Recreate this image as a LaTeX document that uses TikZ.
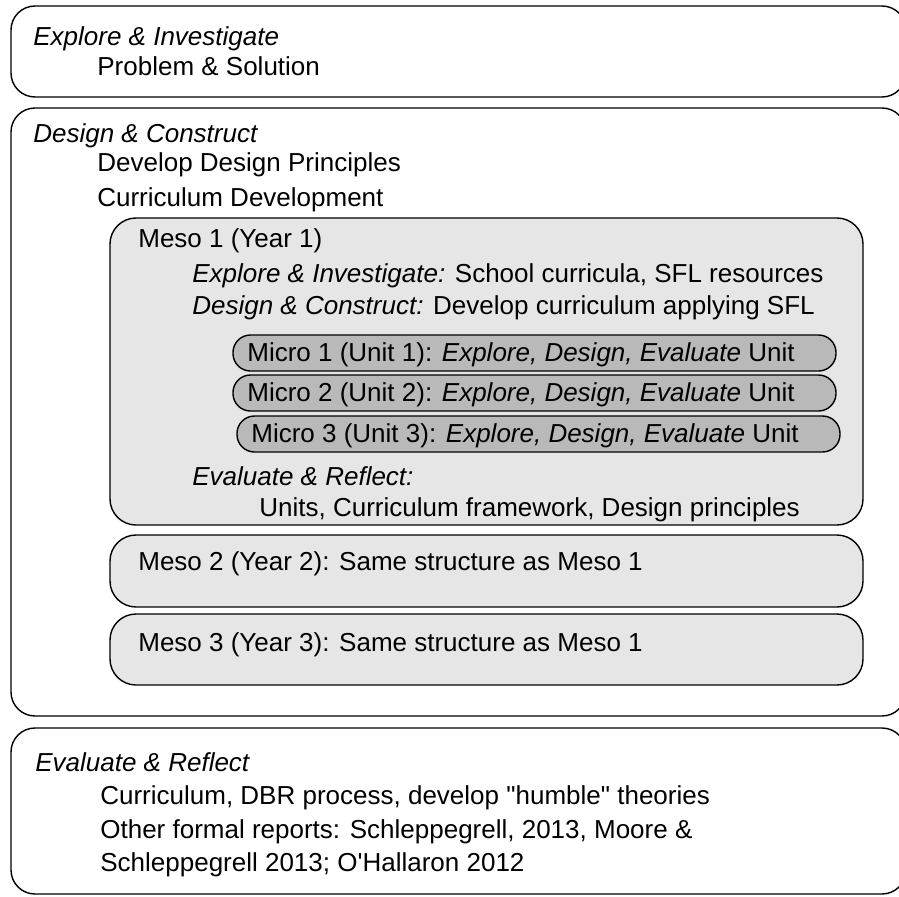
\documentclass[tikz,border=0pt]{standalone}
\usepackage{fontspec}
\setmainfont{Liberation Sans}[Ligatures=TeXOff]
\definecolor{mesogray}{HTML}{E6E6E6}
\definecolor{microgray}{HTML}{B9B9B9}

\begin{document}
\begin{tikzpicture}[x=0.02cm,y=-0.02cm,
    stagebox/.style={draw,line width=0.8pt,rounded corners=0.48cm},
    mesobox/.style={draw,fill=mesogray,line width=0.8pt,rounded corners=0.52cm},
    microbox/.style={draw,fill=microgray,line width=0.8pt,rounded corners=0.35cm},
    txt/.style={anchor=base west,inner sep=0pt,font=\fontsize{14.8}{17}\selectfont}]
\clip (0,0) rectangle (899,896);

% Explore & Investigate
\draw[stagebox] (11,6) rectangle (906,97);
\node[txt] (explore) at (33,45) {\itshape Explore \& Investigate};
\node[txt] (problem) at (97,75) {Problem \& Solution};

% Design & Construct
\draw[stagebox] (11,108) rectangle (906,716);
\node[txt] (design) at (33,142) {\itshape Design \& Construct};
\node[txt] (principles) at (97,171) {Develop Design Principles};
\node[txt] (curdev) at (97,206) {Curriculum Development};

% Meso 1
\draw[mesobox] (110,218) rectangle (863,525);
\node[txt] (meso1) at (138,247) {Meso 1 (Year 1)};
\node[txt] (mexplore) at (192,282) {\textit{Explore \& Investigate:} School curricula, SFL resources};
\node[txt] (mdesign) at (192,314) {\textit{Design \& Construct:} Develop curriculum applying SFL};
% Micro cycles
\foreach \n/\xa/\xb/\ya in {1/233/836/335, 2/233/836/375, 3/237/840/416} {
    \draw[microbox] (\xa,\ya) rectangle (\xb,\ya+36);
    \node[txt] (micro\n) at (\xa+14,\ya+26) {Micro \n\ (Unit \n): \textit{Explore, Design, Evaluate} Unit};
}
\node[txt] (mevaluate) at (192,485) {\itshape Evaluate \& Reflect:};
\node[txt] (units) at (259,516) {Units, Curriculum framework, Design principles};

% Meso 2 and 3
\draw[mesobox] (110,535) rectangle (863,607);
\node[txt] (meso2) at (138,570) {Meso 2 (Year 2): Same structure as Meso 1};
\draw[mesobox] (110,614) rectangle (863,685);
\node[txt] (meso3) at (138,651) {Meso 3 (Year 3): Same structure as Meso 1};

% Evaluate & Reflect
\draw[stagebox] (11,728) rectangle (906,894);
\node[txt] (evaluate) at (35,771) {\itshape Evaluate \& Reflect};
\node[txt] (theories) at (100,804) {Curriculum, DBR process, develop "humble" theories};
\node[txt] (reports) at (100,838) {Other formal reports: Schleppegrell, 2013, Moore \&};
\node[txt] (reports2) at (100,871) {Schleppegrell 2013; O'Hallaron 2012};
\end{tikzpicture}
\end{document}
